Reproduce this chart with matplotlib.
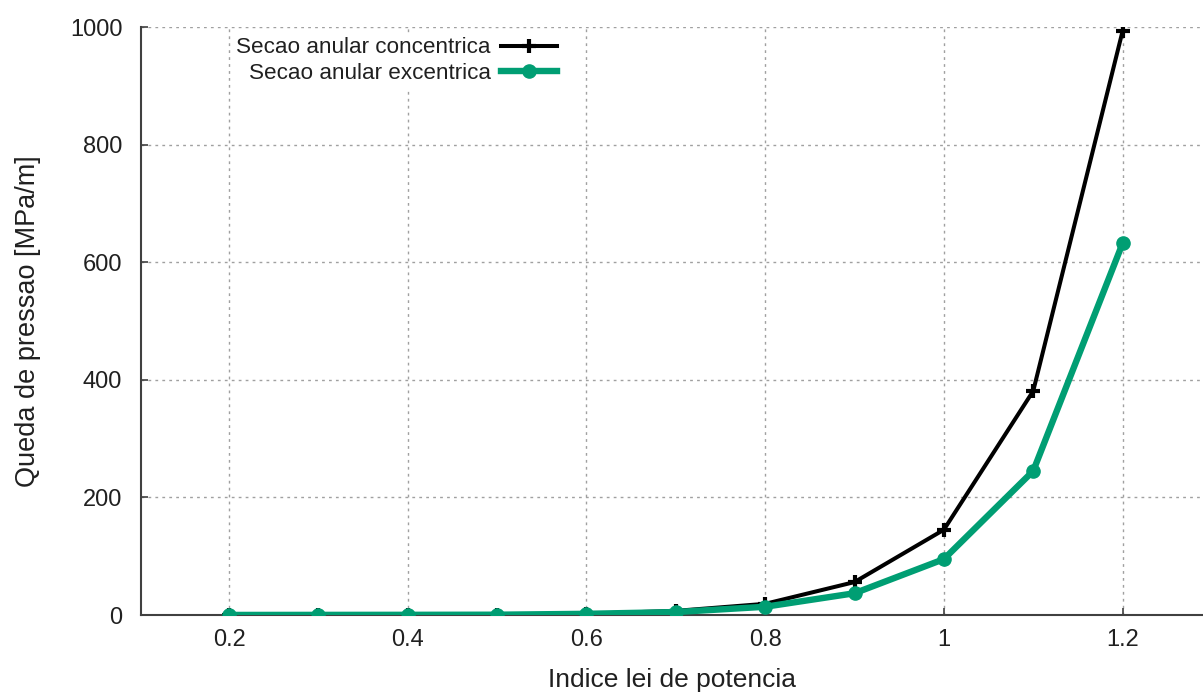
import matplotlib
matplotlib.use("Agg")
import matplotlib.pyplot as plt

# indice da lei de potencia e queda de pressao [MPa/m]
n_indice = [0.2, 0.3, 0.4, 0.5, 0.6, 0.7, 0.8, 0.9, 1.0, 1.1, 1.2]
dp_concentrica = [0.1, 0.2, 0.3, 0.5, 2, 7, 19, 56, 145, 381, 993]
dp_excentrica = [0.1, 0.2, 0.3, 0.5, 2, 5, 14, 37, 95, 245, 632]

x_ticks = [0.2, 0.4, 0.6, 0.8, 1.0, 1.2]
x_ticklabels = ["0.2", "0.4", "0.6", "0.8", "1", "1.2"]
y_ticks = [0, 200, 400, 600, 800, 1000]

plt.rcParams['font.family'] = ['Liberation Sans', 'DejaVu Sans']

fig = plt.figure(figsize=(12.03, 6.96), dpi=100)
ax = fig.add_axes([141 / 1203, 81 / 696, 1062 / 1203, 588 / 696])

ax.plot(n_indice, dp_concentrica, color='black', lw=2.9, marker='+',
        ms=10, mew=3, label='Secao anular concentrica', zorder=3)
ax.plot(n_indice, dp_excentrica, color='#009e73', lw=4.6, marker='o',
        ms=9.5, label='Secao anular excentrica', zorder=4)

ax.set_xlim(0.1015, 1.29)
ax.set_ylim(0, 1000)
ax.set_xticks(x_ticks)
ax.set_xticklabels(x_ticklabels)
ax.set_yticks(y_ticks)

ax.grid(True, color='#a0a0a0', linestyle=(0, (2, 3)), lw=1.0)
for s in ['top', 'right']:
    ax.spines[s].set_visible(False)
for s in ['left', 'bottom']:
    ax.spines[s].set_color('#404040')
    ax.spines[s].set_linewidth(1.5)

ax.tick_params(direction='in', length=5, width=1.2, color='#404040',
               labelsize=17, labelcolor='#202020')
ax.tick_params(axis='y', pad=13.5)
ax.tick_params(axis='x', pad=10)

ax.set_xlabel('Indice lei de potencia', fontsize=19, color='#202020', labelpad=12)
ax.set_ylabel('Queda de pressao [MPa/m]', fontsize=19.5, color='#202020', labelpad=21)

leg = ax.legend(loc='upper right', bbox_to_anchor=(0.396, 0.99), markerfirst=False,
                frameon=True, fontsize=16.2, handlelength=2.5, handletextpad=0.45,
                borderpad=0.2, labelspacing=0.2, borderaxespad=0)
leg.get_frame().set_edgecolor('none')
leg.get_frame().set_facecolor('white')
leg.get_frame().set_alpha(1)
for t in leg.get_texts():
    t.set_horizontalalignment('right')
    t.set_color('#202020')

fig.savefig('out.png', dpi=100)
